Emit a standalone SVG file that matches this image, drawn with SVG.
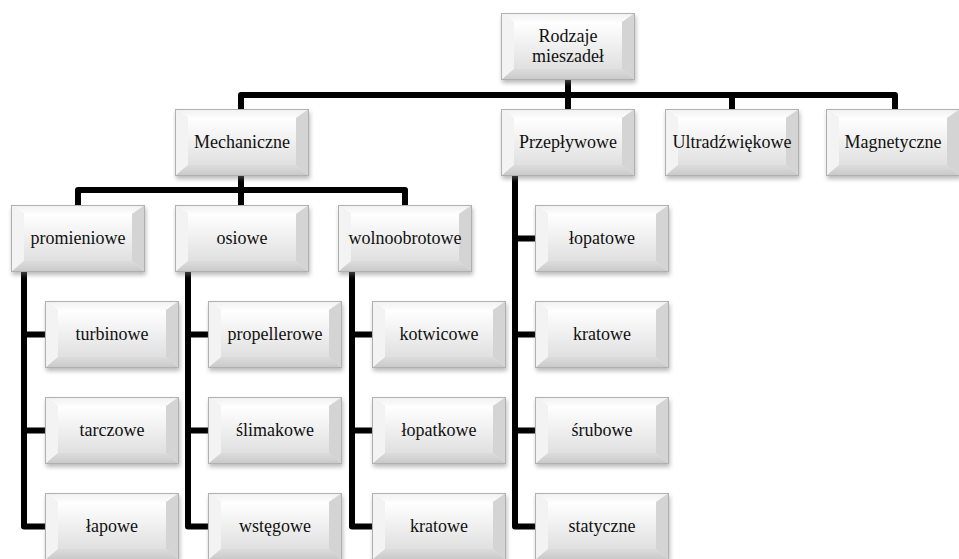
<svg xmlns="http://www.w3.org/2000/svg" xmlns:xlink="http://www.w3.org/1999/xlink" width="959" height="559" viewBox="0 0 959 559">
<style>
  text { font-family: "Liberation Serif", "DejaVu Serif", "Times New Roman", serif; font-size: 18px; fill: #111; text-anchor: middle; }
  .conn { fill: none; stroke: #000; stroke-width: 6; stroke-linejoin: round; stroke-linecap: butt; }
</style>
<defs>
  <filter id="sh" x="-20%" y="-20%" width="140%" height="150%">
    <feGaussianBlur stdDeviation="2"/>
  </filter>
  <linearGradient id="face" x1="0" y1="0" x2="0" y2="1">
    <stop offset="0" stop-color="#ffffff"/>
    <stop offset="1" stop-color="#e0e0e0"/>
  </linearGradient>
  <linearGradient id="topG" x1="0" y1="0" x2="0" y2="1">
    <stop offset="0" stop-color="#f0f0f0"/>
    <stop offset="1" stop-color="#fdfdfd"/>
  </linearGradient>
  <linearGradient id="botG" x1="0" y1="0" x2="0" y2="1">
    <stop offset="0" stop-color="#dcdcdc"/>
    <stop offset="1" stop-color="#c8c8c8"/>
  </linearGradient>
  <symbol id="box" viewBox="-4 -4 144 76" overflow="visible">
    <rect x="1" y="3" width="134" height="67" fill="#777" opacity="0.5" filter="url(#sh)"/>
    <rect x="0" y="0" width="134" height="67" fill="#e8e8e8"/>
    <polygon points="0,0 134,0 121,9 13,9" fill="url(#topG)"/>
    <polygon points="0,0 13,9 13,56 0,67" fill="#f3f3f3"/>
    <polygon points="134,0 121,9 121,56 134,67" fill="#d4d4d4"/>
    <polygon points="0,67 13,56 121,56 134,67" fill="url(#botG)"/>
    <rect x="13" y="9" width="108" height="47" fill="url(#face)"/>
    <rect x="0.5" y="0.5" width="133" height="66" fill="none" stroke="#b0b0b0" stroke-width="1"/>
  </symbol>
</defs>
<rect width="959" height="559" fill="#ffffff"/>

<g id="connectors">
  <path class="conn" d="M568 80 V95"/>
  <path class="conn" d="M241 109 V95 H895 V109"/>
  <path class="conn" d="M732 95 V109"/>
  <path class="conn" d="M568 95 V109"/>
  <path class="conn" d="M241 176 V190"/>
  <path class="conn" d="M78 205 V190 H405 V205"/>
  <path class="conn" d="M241 190 V205"/>
  <path class="conn" d="M24 272 V526.5 H45"/>
  <path class="conn" d="M24 334.5 H45 M24 430.5 H45"/>
  <path class="conn" d="M188 272 V526.5 H208"/>
  <path class="conn" d="M188 334.5 H208 M188 430.5 H208"/>
  <path class="conn" d="M352 272 V526.5 H372"/>
  <path class="conn" d="M352 334.5 H372 M352 430.5 H372"/>
  <path class="conn" d="M515 176 V526.5 H535"/>
  <path class="conn" d="M515 238.5 H535 M515 334.5 H535 M515 430.5 H535"/>
</g>

<g id="n-root"><use href="#box" x="497" y="9" width="144" height="76"/><text x="568" y="42">Rodzaje</text><text x="568" y="62">mieszadeł</text></g>

<g id="n-mech"><use href="#box" x="171" y="105" width="144" height="76"/><text x="242" y="148">Mechaniczne</text></g>
<g id="n-przep"><use href="#box" x="497" y="105" width="144" height="76"/><text x="568" y="148">Przepływowe</text></g>
<g id="n-ultra"><use href="#box" x="661" y="105" width="144" height="76"/><text x="732" y="148">Ultradźwiękowe</text></g>
<g id="n-magn"><use href="#box" x="822" y="105" width="144" height="76"/><text x="893" y="148">Magnetyczne</text></g>

<g id="n-prom"><use href="#box" x="7" y="201" width="144" height="76"/><text x="78" y="244">promieniowe</text></g>
<g id="n-osiowe"><use href="#box" x="171" y="201" width="144" height="76"/><text x="242" y="244">osiowe</text></g>
<g id="n-wolno"><use href="#box" x="334" y="201" width="144" height="76"/><text x="405" y="244">wolnoobrotowe</text></g>

<g id="n-turb"><use href="#box" x="41" y="297" width="144" height="76"/><text x="112" y="340">turbinowe</text></g>
<g id="n-tarcz"><use href="#box" x="41" y="393" width="144" height="76"/><text x="112" y="436">tarczowe</text></g>
<g id="n-lapowe"><use href="#box" x="41" y="489" width="144" height="76"/><text x="112" y="532">łapowe</text></g>

<g id="n-prop"><use href="#box" x="204" y="297" width="144" height="76"/><text x="275" y="340">propellerowe</text></g>
<g id="n-slim"><use href="#box" x="204" y="393" width="144" height="76"/><text x="275" y="436">ślimakowe</text></g>
<g id="n-wsteg"><use href="#box" x="204" y="489" width="144" height="76"/><text x="275" y="532">wstęgowe</text></g>

<g id="n-kotw"><use href="#box" x="368" y="297" width="144" height="76"/><text x="439" y="340">kotwicowe</text></g>
<g id="n-lopatk"><use href="#box" x="368" y="393" width="144" height="76"/><text x="439" y="436">łopatkowe</text></g>
<g id="n-krat1"><use href="#box" x="368" y="489" width="144" height="76"/><text x="439" y="532">kratowe</text></g>

<g id="n-lopat"><use href="#box" x="531" y="201" width="144" height="76"/><text x="602" y="244">łopatowe</text></g>
<g id="n-krat2"><use href="#box" x="531" y="297" width="144" height="76"/><text x="602" y="340">kratowe</text></g>
<g id="n-srub"><use href="#box" x="531" y="393" width="144" height="76"/><text x="602" y="436">śrubowe</text></g>
<g id="n-stat"><use href="#box" x="531" y="489" width="144" height="76"/><text x="602" y="532">statyczne</text></g>
</svg>
